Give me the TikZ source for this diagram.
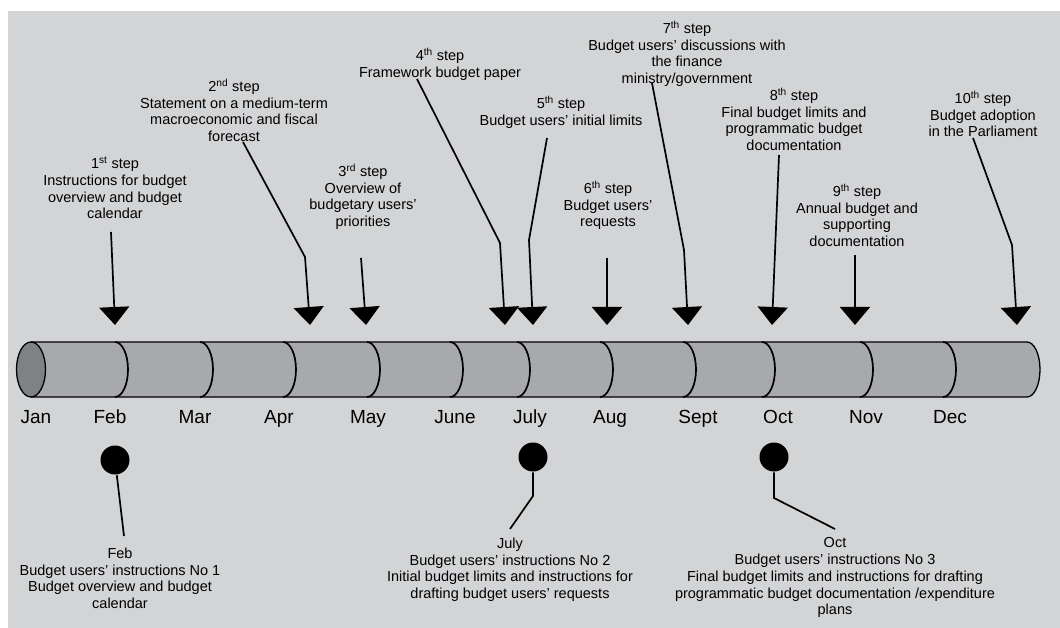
\documentclass[tikz,border=0pt]{standalone}
\usepackage{fontspec}
\setmainfont{Liberation Sans}
\usetikzlibrary{arrows.meta}

\definecolor{panelgray}{RGB}{211,212,214}
\definecolor{tubegray}{RGB}{168,169,172}
\definecolor{capgray}{RGB}{128,129,132}

\begin{document}
\begin{tikzpicture}[
            x = 1pt, y = -1pt, % pixel grid, y runs down
            > = {Triangle[width=30pt, length=18pt]}, % big black heads
            line width = 1.7pt % line style
        ]

        \tikzstyle{step text}=[
            align = center,
            anchor = north,
            inner sep = 0pt,
            font = \fontsize{14.5}{16.7}\selectfont
        ]
        \tikzstyle{month}=[
            anchor = base,
            inner sep = 0pt,
            font = \fontsize{19}{22}\selectfont
        ]
        \tikzstyle{dot}=[
            circle,
            fill = black,
            inner sep = 0pt,
            minimum size = 29pt
        ]

        \useasboundingbox (0,0) rectangle (1060,628);
        \fill[panelgray] (8,11) rectangle (1060,628);

        % the tube
        \filldraw[fill = tubegray, line width = 1.3pt] (31,342) -- (1027,342)
            arc[start angle = 90, end angle = -90, x radius = 13pt, y radius = 27.5pt] -- (31,397);
        \foreach \x in {115,200,283,367,450,517,600,683,762,860,943}
            \draw (\x,342) arc[start angle = 90, end angle = -90, x radius = 13pt, y radius = 27.5pt];
        \filldraw[fill = capgray, line width = 1.3pt] (31,369.5) ellipse [x radius = 14.5pt, y radius = 27.5pt];

        \foreach \name/\x in {Jan/36, Feb/110, Mar/195, Apr/279, May/368, June/455,
                              July/530, Aug/610, Sept/698, Oct/778, Nov/866, Dec/950}
            \node[month] (m-\name) at (\x,423) {\name};

        % steps above the tube
        \node[step text] (s1) at (115,156) {1\textsuperscript{st} step\\Instructions for budget\\overview and budget\\calendar};
        \node[step text] (s2) at (234,78) {2\textsuperscript{nd} step\\Statement on a medium-term\\macroeconomic and fiscal\\forecast};
        \node[step text] (s3) at (363,163) {3\textsuperscript{rd} step\\Overview of\\budgetary users'\\priorities};
        \node[step text] (s4) at (440,47) {4\textsuperscript{th} step\\Framework budget paper};
        \node[step text] (s5) at (561,95) {5\textsuperscript{th} step\\Budget users’ initial limits};
        \node[step text] (s6) at (608,180) {6\textsuperscript{th} step\\Budget users’\\requests};
        \node[step text] (s7) at (687,20) {7\textsuperscript{th} step\\Budget users’ discussions with\\the finance\\ministry/government};
        \node[step text] (s8) at (794,87) {8\textsuperscript{th} step\\Final budget limits and\\programmatic budget\\documentation};
        \node[step text] (s9) at (857,183) {9\textsuperscript{th} step\\Annual budget and\\supporting\\documentation};
        \node[step text] (s10) at (983,90) {10\textsuperscript{th} step\\Budget adoption\\in the Parliament};

        \coordinate (a1) at (111,232);  \coordinate (h1) at (115,325);
        \coordinate (a2) at (243,142);  \coordinate (h2) at (310,325);
        \coordinate (a3) at (361,258);  \coordinate (h3) at (366,325);
        \coordinate (a4) at (417,79);   \coordinate (h4) at (505,325);
        \coordinate (a5) at (547,138);  \coordinate (h5) at (533,325);
        \coordinate (a6) at (607,258);  \coordinate (h6) at (607,325);
        \coordinate (a7) at (652,83);   \coordinate (h7) at (688,325);
        \coordinate (a8) at (779,155);  \coordinate (h8) at (772,325);
        \coordinate (a9) at (855,255);  \coordinate (h9) at (855,325);
        \coordinate (a10) at (973,138); \coordinate (h10) at (1017,325);

        \draw[->] (a1) -- (h1);
        \draw[->] (a2) -- (305,257) -- (h2);
        \draw[->] (a3) -- (h3);
        \draw[->] (a4) -- (500,243) -- (h4);
        \draw[->] (a5) -- (529,240) -- (h5);
        \draw[->] (a6) -- (h6);
        \draw[->] (a7) -- (684,250) -- (h7);
        \draw[->] (a8) -- (h8);
        \draw[->] (a9) -- (h9);
        \draw[->] (a10) -- (1012,245) -- (h10);

        % instructions below the tube
        \node[dot] (d1) at (115,460) {};
        \node[dot] (d2) at (533,457) {};
        \node[dot] (d3) at (774,457) {};

        \node[step text] (b1) at (120,547) {Feb\\Budget users' instructions No 1\\Budget overview and budget\\calendar};
        \node[step text] (b2) at (510,537) {July\\Budget users' instructions No 2\\Initial budget limits and instructions for\\drafting budget users’ requests};
        \node[step text] (b3) at (835,537) {Oct\\Budget users' instructions No 3\\Final budget limits and instructions for drafting\\programmatic budget documentation /expenditure\\plans};

        \coordinate (k1) at (124,536);
        \coordinate (k2) at (510,529);
        \coordinate (k3) at (835,529);

        \draw (d1) -- (k1);
        \draw (d2.south) -- (533,496) -- (k2);
        \draw (d3.south) -- (774,498) -- (k3);

    \end{tikzpicture}
\end{document}
